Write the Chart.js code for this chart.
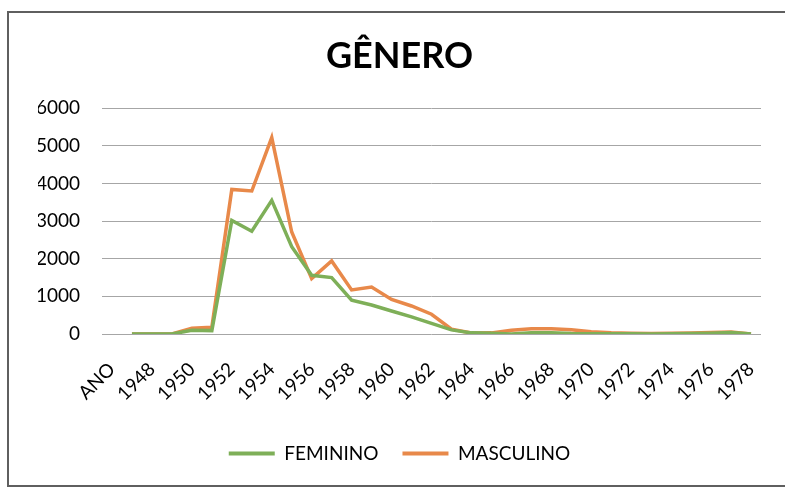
<!DOCTYPE html>
<html>
<head>
<meta charset="utf-8">
<script src="https://cdn.jsdelivr.net/npm/chart.js@4"></script>
<style>
html,body{margin:0;padding:0;background:#fff;overflow:hidden;width:785px;height:495px;}
canvas{display:block;}
</style>
</head>
<body>
<canvas id="c" width="785" height="495"></canvas>
<script>
const categories = ['ANO','1947','1948','1949','1950','1951','1952','1953','1954','1955','1956','1957','1958','1959','1960','1961','1962','1963','1964','1965','1966','1967','1968','1969','1970','1971','1972','1973','1974','1975','1976','1977','1978'];
const feminino  = [null,0,0,0,100,90,3020,2730,3550,2320,1560,1500,900,770,610,455,280,110,30,20,0,30,30,10,5,5,5,0,5,10,20,40,0];
const masculino = [null,0,0,0,150,180,3840,3800,5220,2710,1470,1940,1170,1250,920,745,525,130,25,30,100,140,140,110,60,30,20,10,20,25,40,50,0];
const yTicks = [0,1000,2000,3000,4000,5000,6000];

const FONT = 'Lato, "Open Sans", sans-serif';

const framePlugin = {
  id:'frame',
  beforeDraw(chart){
    const ctx = chart.ctx;
    ctx.save();
    ctx.strokeStyle = '#5f5f5f';
    ctx.lineWidth = 2;
    ctx.beginPath();
    ctx.moveTo(790, 12); ctx.lineTo(8, 12); ctx.lineTo(8, 486); ctx.lineTo(790, 486);
    ctx.stroke();
    ctx.restore();
  }
};

new Chart(document.getElementById('c'), {
  type: 'line',
  data: {
    labels: categories,
    datasets: [
      {label:'FEMININO', data: feminino, borderColor:'#7EAF58', backgroundColor:'#7EAF58', borderWidth:3.5, pointRadius:0, tension:0, spanGaps:false},
      {label:'MASCULINO', data: masculino, borderColor:'#E8894A', backgroundColor:'#E8894A', borderWidth:3.5, pointRadius:0, tension:0, spanGaps:false}
    ]
  },
  plugins:[framePlugin],
  options: {
    responsive:false, animation:false, devicePixelRatio:1,
    layout:{padding:{left:38,right:24,top:0,bottom:22}},
    plugins:{
      title:{display:true, text:'GÊNERO', color:'#000', font:{family:FONT, size:36, weight:'bold'}, padding:{top:35,bottom:30}},
      legend:{position:'bottom', labels:{color:'#000', font:{family:FONT,size:19}, boxWidth:46, boxHeight:4, padding:24,
        generateLabels:(chart)=>chart.data.datasets.map((d,i)=>({text:d.label, fillStyle:d.borderColor, strokeStyle:d.borderColor, lineWidth:0, datasetIndex:i, hidden:false, fontColor:'#000'}))}},
      tooltip:{enabled:false}
    },
    scales:{
      x:{offset:true,
        grid:{display:false, drawTicks:false},
        border:{display:false},
        ticks:{autoSkip:false, minRotation:45, maxRotation:45, padding:24, color:'#000', font:{family:FONT,size:19},
          callback:(v,i)=> i%2===0 ? categories[i] : ''},
        afterFit:(s)=>{s.height=86; s.paddingLeft=0; s.paddingRight=0;}
      },
      y:{min:0,max:6000,
        afterBuildTicks:(s)=>{s.ticks = yTicks.map(v=>({value:v}));},
        grid:{color:'#a6a6a6', lineWidth:1, drawTicks:false},
        border:{display:false},
        ticks:{padding:22, color:'#000', font:{family:FONT,size:19}, callback:(v)=>String(v)},
        afterFit:(s)=>{s.width=64; s.paddingTop=0; s.paddingBottom=0;}
      }
    }
  }
});
</script>
</body>
</html>
